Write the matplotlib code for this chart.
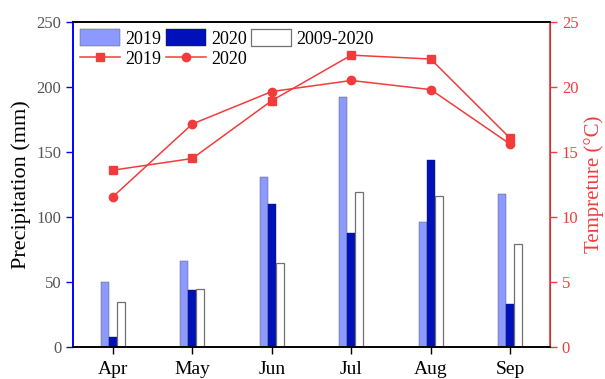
import matplotlib
matplotlib.use("Agg")
import matplotlib.pyplot as plt
import numpy as np

months = ["Apr", "May", "Jun", "Jul", "Aug", "Sep"]
precip_2019 = [50, 66, 131, 192, 96, 118]
precip_2020 = [7.5, 44, 110, 88, 144, 33]
precip_avg = [35, 45, 65, 119, 116, 79]
temp_2019 = [13.6, 14.5, 18.95, 22.45, 22.15, 16.05]
temp_2020 = [11.55, 17.15, 19.65, 20.5, 19.8, 15.6]

plt.rcParams["font.family"] = ["Liberation Serif", "DejaVu Serif"]

fig = plt.figure(figsize=(6.05, 3.79), dpi=100)
ax = fig.add_axes([0.1207, 0.0844, 0.7884, 0.8576])
ax2 = ax.twinx()

x = np.arange(len(months))
w = 0.1
light_blue = "#8c9aff"
dark_blue = "#0010bb"
red = "#f23c3c"

b1 = ax.bar(x - w, precip_2019, w, color=light_blue, edgecolor="#505050", linewidth=0.3, label="2019")
b2 = ax.bar(x, precip_2020, w, color=dark_blue, edgecolor="#202040", linewidth=0.3, label="2020")
b3 = ax.bar(x + w, precip_avg, w, color="white", edgecolor="#707070", linewidth=0.9, label="2009-2020")

l1, = ax2.plot(x, temp_2019, color=red, marker="s", markersize=5.5, linewidth=1.1, label="2019")
l2, = ax2.plot(x, temp_2020, color=red, marker="o", markersize=6, linewidth=1.1, label="2020")

ax.set_xlim(-0.5, 5.5)
ax.set_ylim(0, 250)
ax2.set_ylim(0, 25)
ax.set_xticks(x)
ax.set_xticklabels(months)
ax.set_yticks(np.arange(0, 251, 50))
ax2.set_yticks(np.arange(0, 26, 5))

ax.tick_params(axis="y", colors="#0000ff", labelcolor="#555555", labelsize=12, length=5, width=1, direction="out")
ax.tick_params(axis="x", colors="black", labelsize=14, length=5, width=1, direction="out", pad=5)
ax2.tick_params(axis="y", colors=red, labelcolor=red, labelsize=12, length=5, width=1, direction="out")

ax.set_ylabel("Precipitation (mm)", fontsize=16, labelpad=4)
ax2.set_ylabel("Tempreture (°C)", fontsize=15, color=red, labelpad=4)

for a in (ax, ax2):
    a.spines["top"].set_color("black")
    a.spines["bottom"].set_color("black")
    a.spines["top"].set_linewidth(1.2)
    a.spines["bottom"].set_linewidth(1.2)
ax.spines["left"].set_color("#0000ff")
ax2.spines["left"].set_color("#0000ff")
ax.spines["left"].set_linewidth(1.2)
ax2.spines["left"].set_linewidth(1.2)
ax2.spines["right"].set_color(red)
ax2.spines["right"].set_linewidth(1.2)

handles = [b1, l1, b2, l2, b3]
labels = ["2019", "2019", "2020", "2020", "2009-2020"]
ax2.legend(handles, labels, loc="upper left", bbox_to_anchor=(0.0, 1.0), ncol=3,
           frameon=False, fontsize=13, handlelength=2.2, handleheight=1.05,
           handletextpad=0.3, columnspacing=0.25, labelspacing=0.1, borderaxespad=0.2,
           borderpad=0.2)

fig.savefig("out.png", dpi=100)
